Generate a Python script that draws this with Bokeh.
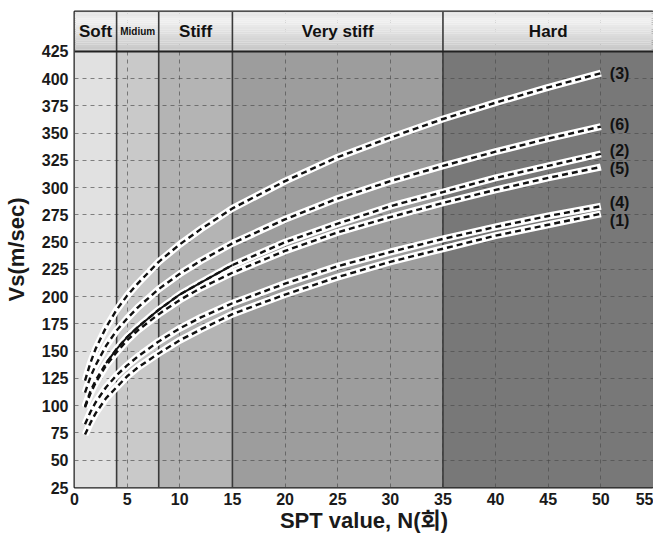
import numpy as np
from bokeh.plotting import figure
from bokeh.models import ColumnDataSource, Range1d, FixedTicker, Span
from bokeh.core.properties import value
from bokeh.embed import file_html
from bokeh.resources import INLINE

# ---------------- data ----------------
N = [1, 1.5, 2, 3, 4, 5, 6, 8, 10, 12, 15, 20, 25, 30, 35, 40, 45, 50]
VS_1 = [73.5, 84, 93, 107, 117, 127, 135, 148, 160, 170, 184, 202, 218, 232, 244, 256, 266, 276]
VS_2 = [99.5, 113, 123, 139, 152, 163, 172, 188, 202, 213, 229, 250, 267, 283, 296, 309, 320, 331]
VS_3 = [123, 139, 152, 172, 188, 201, 212, 232, 248, 262, 281, 306, 328, 346, 363, 378, 392, 405]
VS_4 = [83, 94, 103, 117, 128, 137, 145, 159, 171, 181, 194, 212, 228, 241, 253, 264, 274, 283]
VS_5 = [98.5, 111, 121, 137, 149, 160, 169, 184, 197, 208, 222, 242, 259, 273, 286, 298, 309, 319]
VS_6 = [112, 126, 137, 155, 169, 180, 190, 207, 221, 233, 249, 271, 290, 306, 320, 333, 345, 356]
CURVE_LABELS = ["(1)", "(2)", "(3)", "(4)", "(5)", "(6)"]

ZONE_NAMES = ["Soft", "Midium", "Stiff", "Very stiff", "Hard"]
ZONE_START = [0, 4, 8, 15, 35]
ZONE_END = [4, 8, 15, 35, 55]

X_TICKS = list(range(0, 56, 5))
Y_TICKS = list(range(25, 426, 25))

# ---------------- styling constants ----------------
X_MIN, X_MAX = 0, 55
Y_MIN, Y_MAX = 25, 425
HEADER_TOP = 461.6
FONT = "Liberation Sans"
CJK = "Liberation Sans, Noto Sans CJK KR"

p = figure(width=653, height=535,
           x_range=Range1d(X_MIN, X_MAX), y_range=Range1d(Y_MIN, HEADER_TOP),
           output_backend="svg", toolbar_location=None,
           min_border_left=65, min_border_right=0, min_border_top=11, min_border_bottom=10)
p.background_fill_color = "white"
p.border_fill_color = "white"
p.outline_line_color = "#1e1e1e"
p.outline_line_width = 2

# zone backgrounds (below grid)
zone_colors = ["#e1e1e1", "#c9c9c9", "#b4b4b4", "#9d9d9d", "#787878"]
p.quad(left=ZONE_START, right=ZONE_END, bottom=Y_MIN, top=Y_MAX,
       fill_color=zone_colors, line_color=None, level="image")

# header gradient stripes
n = 18
edges = np.linspace(Y_MAX, HEADER_TOP, n + 1)
t = np.linspace(0, 1, n)
shade = np.where(t < 0.8, 200 + (240 - 200) * (t / 0.8), 240 - (240 - 228) * ((t - 0.8) / 0.2))
cols = ["#%02x%02x%02x" % (int(s), int(s), int(s)) for s in shade]
p.quad(left=X_MIN, right=X_MAX, bottom=edges[:-1], top=edges[1:],
       fill_color=cols, line_color=None)

# zone separators (through plot and header)
p.segment(x0=ZONE_START[1:], y0=Y_MIN, x1=ZONE_START[1:], y1=HEADER_TOP,
          line_color="#3a3a3a", line_width=1.6)
p.add_layout(Span(location=Y_MAX, dimension="width", line_color="#222222", line_width=2))

# header labels
hx = [(s + e) / 2 for s, e in zip(ZONE_START, ZONE_END)]
hsrc = ColumnDataSource(dict(x=hx, y=[(Y_MAX + HEADER_TOP) / 2] * len(hx), text=ZONE_NAMES,
                             size=["17px", "10px", "17px", "17px", "17px"]))
p.text(x="x", y="y", text="text", source=hsrc, text_font=value(FONT), text_font_style="bold",
       text_font_size="size", text_color="#111111", text_align="center", text_baseline="middle")

# grid
p.xaxis.ticker = FixedTicker(ticks=X_TICKS)
p.yaxis.ticker = FixedTicker(ticks=Y_TICKS)
for g in (p.xgrid, p.ygrid):
    g.grid_line_color = "#4a4a4a"
    g.grid_line_alpha = 0.65
    g.grid_line_dash = "4 4"
    g.grid_line_width = 1

# axes
for ax in (p.xaxis, p.yaxis):
    ax.major_label_text_font = FONT
    ax.major_label_text_font_style = "bold"
    ax.major_label_text_font_size = "16px"
    ax.major_label_text_color = "#1a1a1a"
    ax.axis_label_text_font = CJK
    ax.axis_label_text_font_style = "bold"
    ax.axis_label_text_font_size = "22px"
    ax.axis_label_text_color = "#1a1a1a"
    ax.major_tick_in = 0
    ax.major_tick_out = 0
    ax.minor_tick_in = 0
    ax.minor_tick_out = 0
    ax.axis_line_color = None
p.xaxis.axis_label = "SPT value, N(회)"
p.yaxis.axis_label = "Vs(m/sec)"
p.xaxis.major_label_standoff = 5
p.xaxis.axis_label_standoff = 0
p.yaxis.major_label_standoff = 6
p.yaxis.axis_label_standoff = 10

# curves
series = [VS_1, VS_2, VS_3, VS_4, VS_5, VS_6]
for vs in series:
    p.line(N, vs, line_color="white", line_width=7)
for vs in series:
    p.line(N, vs, line_color="#111111", line_width=2.4, line_dash="6 4")
p.line(N[3:11], VS_2[3:11], line_color="#111111", line_width=2)

# curve labels
lsrc = ColumnDataSource(dict(x=[N[-1]] * len(series), y=[vs[-1] for vs in series],
                             text=CURVE_LABELS, dy=[7, -3, 0, -4, 2, -2]))
p.text(x="x", y="y", text="text", source=lsrc, y_offset="dy", x_offset=9,
       text_font=value(FONT), text_font_style="bold", text_font_size="16px",
       text_color="#111111", text_align="left", text_baseline="middle")

open("out.html", "w").write(file_html(p, INLINE))
